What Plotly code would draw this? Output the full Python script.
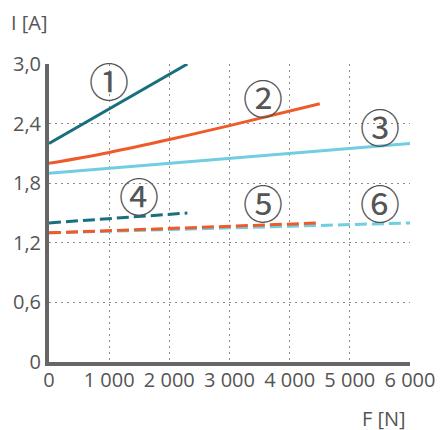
import plotly.graph_objects as go

# Data
s1_x = [0, 2300]
s1_y = [2.2, 3.0]
s2_x = [0, 1000, 2000, 3000, 4500]
s2_y = [2.0, 2.11, 2.24, 2.38, 2.6]
s3_x = [0, 6000]
s3_y = [1.9, 2.2]
s4_x = [0, 2300]
s4_y = [1.4, 1.5]
s5_x = [0, 4500]
s5_y = [1.3, 1.4]
s6_x = [0, 6000]
s6_y = [1.3, 1.4]

x_ticks = [0, 1000, 2000, 3000, 4000, 5000, 6000]
x_tick_labels = ["0", "1 000", "2 000", "3 000", "4 000", "5 000", "6 000"]
y_ticks = [0, 0.6, 1.2, 1.8, 2.4, 3.0]
y_tick_labels = ["0", "0,6", "1,2", "1,8", "2,4", "3,0"]

label_text = ["①", "②", "③", "④", "⑤", "⑥"]
label_x = [1000, 3550, 5500, 1500, 3550, 5500]
label_y = [2.84, 2.67, 2.38, 1.68, 1.61, 1.61]

TEAL = "#18707f"
ORANGE = "#ef5a2a"
LBLUE = "#70cde2"

fig = go.Figure()
series = [
    (s6_x, s6_y, LBLUE, "dash"),
    (s5_x, s5_y, ORANGE, "dash"),
    (s4_x, s4_y, TEAL, "dash"),
    (s3_x, s3_y, LBLUE, "solid"),
    (s2_x, s2_y, ORANGE, "solid"),
    (s1_x, s1_y, TEAL, "solid"),
]
for xs, ys, c, d in series:
    fig.add_trace(go.Scatter(
        x=xs, y=ys, mode="lines",
        line=dict(color=c, width=3, dash="12px,5px" if d == "dash" else "solid",
                  shape="spline" if len(xs) > 2 else "linear"),
        showlegend=False, hoverinfo="skip", cliponaxis=False,
    ))

for t, x, y in zip(label_text, label_x, label_y):
    fig.add_annotation(x=x, y=y, text=t, showarrow=False,
                       font=dict(family="Noto Sans CJK JP", size=40, color="#555555"))

fig.update_layout(
    width=440, height=430,
    margin=dict(l=49, r=30, t=64, b=68, autoexpand=False),
    paper_bgcolor="white", plot_bgcolor="white",
    font=dict(family="Open Sans", color="#555555", size=20),
)
fig.update_xaxes(
    range=[0, 6000], tickvals=x_ticks, ticktext=x_tick_labels,
    showgrid=True, gridcolor="#8a8a8a", griddash="2px,4px", gridwidth=1,
    showline=True, linecolor="#666666", linewidth=4,
    zeroline=False, ticks="", ticklabelstandoff=-3, automargin=False,
    tickfont=dict(size=20, color="#555555"),
)
fig.update_yaxes(
    range=[0, 3.0], tickvals=y_ticks, ticktext=y_tick_labels,
    showgrid=True, gridcolor="#8a8a8a", griddash="2px,4px", gridwidth=1,
    showline=True, linecolor="#666666", linewidth=4,
    zeroline=False, ticks="", ticklabelstandoff=0, automargin=False,
    tickfont=dict(size=20, color="#555555"),
)
fig.add_annotation(xref="paper", yref="paper", x=-0.11, y=1.0, yshift=42,
                   text="I [A]", showarrow=False, xanchor="left", yanchor="middle",
                   font=dict(size=20, color="#555555"))
fig.add_annotation(xref="paper", yref="paper", x=0.995, y=0, yshift=-56,
                   text="F [N]", showarrow=False, xanchor="right", yanchor="middle",
                   font=dict(size=20, color="#555555"))

fig.write_html(
    "out.html",
    config={"displayModeBar": False},
    post_script="document.body.style.margin='0';document.body.style.overflow='hidden';",
)
